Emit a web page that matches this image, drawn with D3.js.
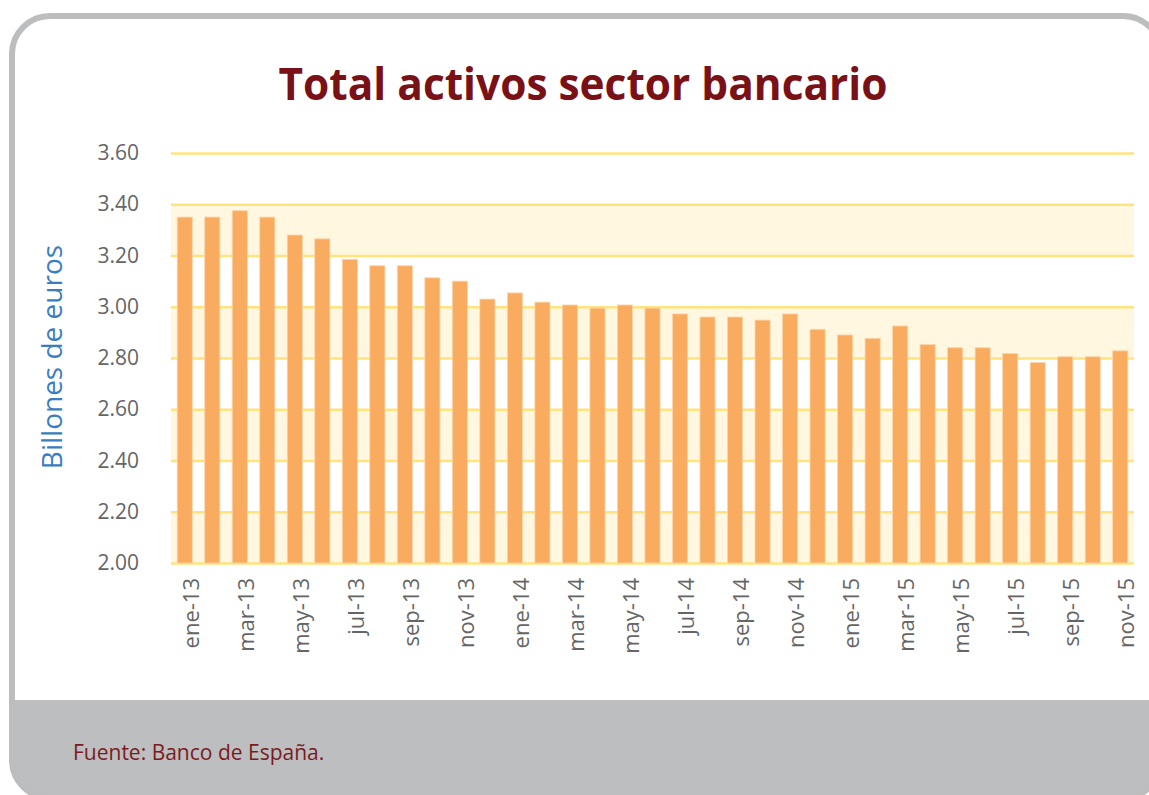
<!DOCTYPE html>
<html>
<head>
<meta charset="utf-8">
<script src="https://cdn.jsdelivr.net/npm/d3@7"></script>
<style>
  html, body { margin: 0; padding: 0; background: #ffffff; }
  svg { display: block; }
</style>
</head>
<body>
<svg id="chart"></svg>
<script>
// Datos: total activos del sector bancario (billones de euros)
const months = [
    'ene-13', 'feb-13', 'mar-13', 'abr-13', 'may-13', 'jun-13', 'jul-13', 'ago-13', 'sep-13', 'oct-13', 'nov-13', 'dic-13',
    'ene-14', 'feb-14', 'mar-14', 'abr-14', 'may-14', 'jun-14', 'jul-14', 'ago-14', 'sep-14', 'oct-14', 'nov-14', 'dic-14',
    'ene-15', 'feb-15', 'mar-15', 'abr-15', 'may-15', 'jun-15', 'jul-15', 'ago-15', 'sep-15', 'oct-15', 'nov-15'
];
const activos = [
    3.350, 3.350, 3.375, 3.350, 3.280, 3.265, 3.185, 3.160, 3.160, 3.113, 3.100, 3.030,
    3.054, 3.018, 3.007, 2.995, 3.007, 2.995, 2.972, 2.960, 2.960, 2.948, 2.972, 2.912,
    2.890, 2.877, 2.925, 2.853, 2.840, 2.840, 2.818, 2.782, 2.805, 2.805, 2.828
];
const xTickLabels = ['ene-13', 'mar-13', 'may-13', 'jul-13', 'sep-13', 'nov-13', 'ene-14', 'mar-14', 'may-14',
    'jul-14', 'sep-14', 'nov-14', 'ene-15', 'mar-15', 'may-15', 'jul-15', 'sep-15', 'nov-15'];
const yTicks = [2.00, 2.20, 2.40, 2.60, 2.80, 3.00, 3.20, 3.40, 3.60];
const yBands = [[2.00, 2.20], [2.40, 2.60], [2.80, 3.00], [3.20, 3.40]];

// Configuración de estilo
const Config = {
    width: 1149,
    height: 795,
    font: '"Open Sans", "Noto Sans", sans-serif',
    plot: { left: 171, right: 1134, top: 153, bottom: 563 },
    bar: { fill: '#f9ac5f', edge: '#fdd5ab' },
    grid: { stroke: '#ffe37c', width: 2.6, band: '#fff7df' },
    frame: { stroke: '#bcbdbf', footer: '#bdbec0' },
    colors: { title: '#7a1116', axisTitle: '#3a7dc0', tick: '#656565', source: '#7b1a1e' }
};

function drawChart() {
    const svg = d3.select('#chart')
        .attr('width', Config.width)
        .attr('height', Config.height);

    // Marco redondeado con pie gris
    const frame = { x: 12, y: 16, w: 1149, h: 782, r: 38 };
    svg.append('clipPath').attr('id', 'frame-clip')
        .append('rect')
        .attr('x', frame.x).attr('y', frame.y)
        .attr('width', frame.w).attr('height', frame.h)
        .attr('rx', frame.r);

    const inner = svg.append('g').attr('clip-path', 'url(#frame-clip)');
    inner.append('rect')
        .attr('x', frame.x).attr('y', frame.y)
        .attr('width', frame.w).attr('height', frame.h)
        .attr('fill', '#ffffff');
    inner.append('rect')
        .attr('x', frame.x).attr('y', 700)
        .attr('width', frame.w).attr('height', 120)
        .attr('fill', Config.frame.footer);

    svg.append('rect')
        .attr('x', frame.x).attr('y', frame.y)
        .attr('width', frame.w).attr('height', frame.h)
        .attr('rx', frame.r)
        .attr('fill', 'none')
        .attr('stroke', Config.frame.stroke)
        .attr('stroke-width', 6);

    // Escalas
    const p = Config.plot;
    const x = d3.scaleBand()
        .domain(months)
        .range([p.left, p.right])
        .paddingInner(0.45)
        .paddingOuter(0.225);
    const y = d3.scaleLinear()
        .domain([2.0, 3.6])
        .range([p.bottom, p.top]);

    // Bandas alternas
    svg.append('g')
        .selectAll('rect')
        .data(yBands)
        .enter().append('rect')
        .attr('x', p.left)
        .attr('width', p.right - p.left)
        .attr('y', d => y(d[1]))
        .attr('height', d => y(d[0]) - y(d[1]))
        .attr('fill', Config.grid.band);

    // Líneas de cuadrícula
    const yAxis = d3.axisLeft(y)
        .tickValues(yTicks)
        .tickSize(-(p.right - p.left))
        .tickPadding(32)
        .tickFormat(d3.format('.2f'));

    const gy = svg.append('g')
        .attr('transform', `translate(${p.left},0)`)
        .call(yAxis);
    gy.select('.domain').remove();
    gy.selectAll('.tick line')
        .attr('stroke', Config.grid.stroke)
        .attr('stroke-width', Config.grid.width);
    gy.selectAll('.tick text')
        .attr('fill', Config.colors.tick)
        .style('font-family', Config.font)
        .style('font-size', '21px');

    // Barras
    svg.append('g')
        .selectAll('rect')
        .data(activos)
        .enter().append('rect')
        .attr('x', (d, i) => x(months[i]))
        .attr('width', x.bandwidth())
        .attr('y', d => y(d))
        .attr('height', d => y(2.0) - y(d))
        .attr('fill', Config.bar.fill)
        .attr('stroke', Config.bar.edge)
        .attr('stroke-width', 0.8);

    // Eje X con etiquetas giradas
    const xAxis = d3.axisBottom(x)
        .tickValues(xTickLabels)
        .tickSize(0)
        .tickPadding(0);
    const gx = svg.append('g')
        .attr('transform', `translate(6,${p.bottom})`)
        .call(xAxis);
    gx.select('.domain').remove();
    gx.selectAll('.tick text')
        .attr('transform', 'rotate(-90)')
        .attr('text-anchor', 'end')
        .attr('x', -15)
        .attr('y', 0)
        .attr('dy', '0.36em')
        .attr('fill', Config.colors.tick)
        .style('font-family', Config.font)
        .style('font-size', '22px');

    // Título del eje Y
    svg.append('text')
        .attr('transform', 'translate(62,357) rotate(-90)')
        .attr('text-anchor', 'middle')
        .attr('fill', Config.colors.axisTitle)
        .style('font-family', Config.font)
        .style('font-size', '28px')
        .text('Billones de euros');

    // Título
    svg.append('text')
        .attr('x', 583)
        .attr('y', 100)
        .attr('text-anchor', 'middle')
        .attr('fill', Config.colors.title)
        .attr('textLength', 609)
        .attr('lengthAdjust', 'spacingAndGlyphs')
        .style('font-family', Config.font)
        .style('font-size', '45px')
        .style('font-weight', 'bold')
        .text('Total activos sector bancario');

    // Fuente
    svg.append('text')
        .attr('x', 73)
        .attr('y', 760)
        .attr('fill', Config.colors.source)
        .style('font-family', Config.font)
        .style('font-size', '21px')
        .text('Fuente: Banco de España.');
}

document.addEventListener('DOMContentLoaded', drawChart);
</script>
</body>
</html>
